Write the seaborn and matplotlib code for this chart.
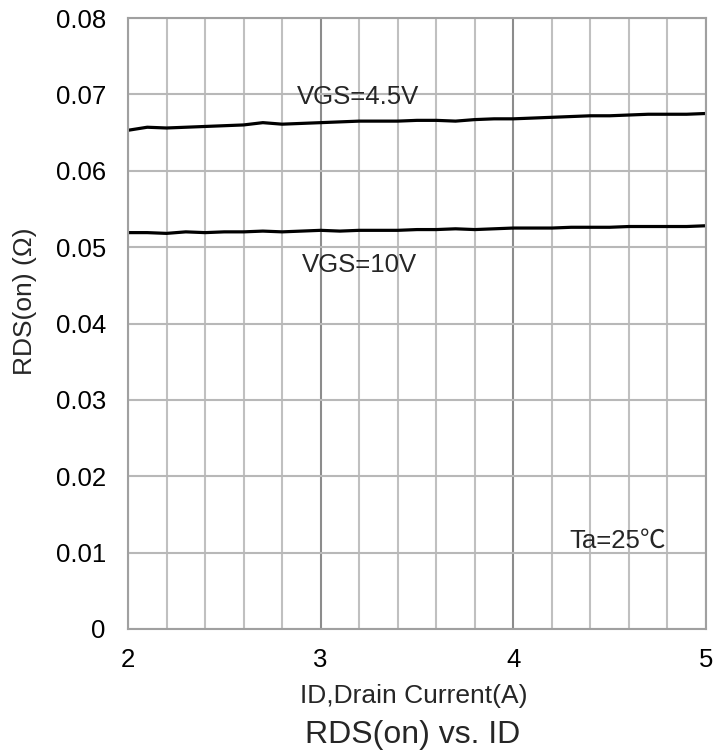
import numpy as np
import pandas as pd
import matplotlib
matplotlib.use("Agg")
import matplotlib.pyplot as plt
import seaborn as sns

id_current = [2.0, 2.1, 2.2, 2.3, 2.4, 2.5, 2.6, 2.7, 2.8, 2.9, 3.0, 3.1, 3.2, 3.3, 3.4, 3.5,
              3.6, 3.7, 3.8, 3.9, 4.0, 4.1, 4.2, 4.3, 4.4, 4.5, 4.6, 4.7, 4.8, 4.9, 5.0]
rds_vgs45 = [0.0653, 0.0657, 0.0656, 0.0657, 0.0658, 0.0659, 0.0660, 0.0663, 0.0661, 0.0662, 0.0663,
             0.0664, 0.0665, 0.0665, 0.0665, 0.0666, 0.0666, 0.0665, 0.0667, 0.0668, 0.0668,
             0.0669, 0.0670, 0.0671, 0.0672, 0.0672, 0.0673, 0.0674, 0.0674, 0.0674, 0.0675]
rds_vgs10 = [0.0519, 0.0519, 0.0518, 0.0520, 0.0519, 0.0520, 0.0520, 0.0521, 0.0520, 0.0521, 0.0522,
             0.0521, 0.0522, 0.0522, 0.0522, 0.0523, 0.0523, 0.0524, 0.0523, 0.0524, 0.0525,
             0.0525, 0.0525, 0.0526, 0.0526, 0.0526, 0.0527, 0.0527, 0.0527, 0.0527, 0.0528]
x_ticks = [2, 3, 4, 5]
y_ticks = [0, 0.01, 0.02, 0.03, 0.04, 0.05, 0.06, 0.07, 0.08]
y_tick_labels = ["0", "0.01", "0.02", "0.03", "0.04", "0.05", "0.06", "0.07", "0.08"]

sns.set_theme(style="white")
plt.rcParams['font.family'] = ['Liberation Sans', 'DejaVu Sans']

df = pd.DataFrame({
    "ID": id_current * 2,
    "RDS": rds_vgs45 + rds_vgs10,
    "VGS": ["4.5V"] * len(id_current) + ["10V"] * len(id_current),
})

fig = plt.figure(figsize=(7.28, 7.54), dpi=100)
ax = fig.add_axes([0.1758, 0.1658, 0.7940, 0.8103])

# grid
for xv in np.arange(2.0, 5.0001, 0.2):
    major = abs(xv - round(xv)) < 1e-6
    ax.axvline(xv, color="#8c8c8c" if major else "#c0c0c0", lw=1.5, zorder=0)
for yv in y_ticks:
    ax.axhline(yv, color="#b8b8b8", lw=1.5, zorder=0)

sns.lineplot(data=df, x="ID", y="RDS", units="VGS", estimator=None, color="black",
             lw=2.3, ax=ax, legend=False)

ax.set_xlim(2, 5)
ax.set_ylim(0, 0.08)
ax.set_xticks(x_ticks)
ax.set_xticklabels([str(v) for v in x_ticks], fontsize=18.5)
ax.set_yticks(y_ticks)
ax.set_yticklabels(y_tick_labels, fontsize=18.5)
ax.tick_params(axis="x", length=0, pad=13.5, colors="black")
ax.tick_params(axis="y", length=0, pad=16, colors="black")
for s in ax.spines.values():
    s.set_color("#a0a0a0")
    s.set_linewidth(1.5)

ax.set_xlabel("")
ax.set_ylabel("RDS(on) (Ω)", fontsize=19)
ax.yaxis.set_label_coords(-0.157, 0.537)

fig.text(414 / 728, 1 - 703 / 754, "ID,Drain Current(A)", fontsize=19, ha="center", va="baseline")
fig.text(412.5 / 728, 1 - 743 / 754, "RDS(on) vs. ID", fontsize=23, ha="center", va="baseline")

ax.text(3.194, 0.0688, "VGS=4.5V", fontsize=18.5, ha="center", va="baseline")
ax.text(3.20, 0.0467, "VGS=10V", fontsize=18.5, ha="center", va="baseline")
ax.text(4.544, 0.0106, "Ta=25℃", fontsize=18.5, ha="center", va="baseline",
        family=['Liberation Sans', 'Noto Sans CJK SC', 'DejaVu Sans'])

fig.savefig("out.png", dpi=100)
